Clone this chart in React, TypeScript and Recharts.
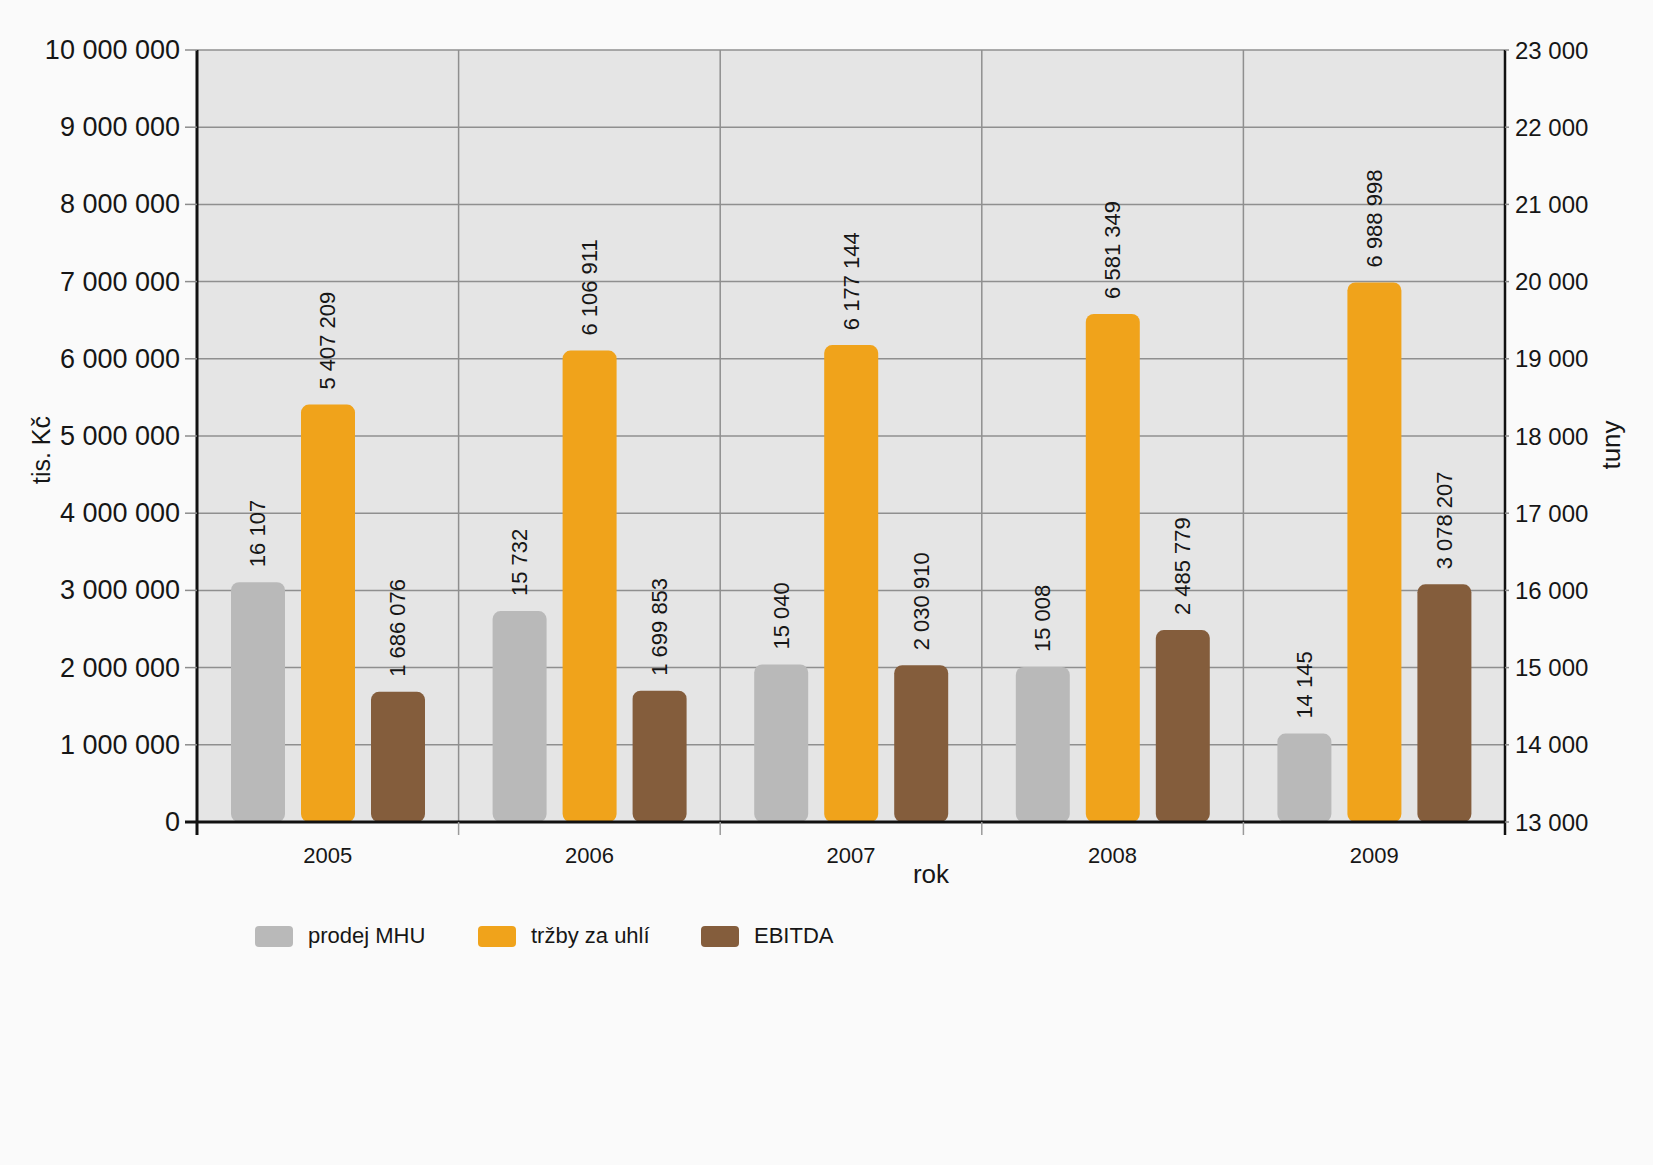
import React from 'react';
import { ComposedChart, Bar, XAxis, YAxis, CartesianGrid, LabelList } from 'recharts';

const years = ['2005', '2006', '2007', '2008', '2009'];
const prodejMHU = [16107, 15732, 15040, 15008, 14145];
const trzbyZaUhli = [5407209, 6106911, 6177144, 6581349, 6988998];
const ebitda = [1686076, 1699853, 2030910, 2485779, 3078207];
const leftTicks = [0, 1000000, 2000000, 3000000, 4000000, 5000000, 6000000, 7000000, 8000000, 9000000, 10000000];
const rightTicks = [13000, 14000, 15000, 16000, 17000, 18000, 19000, 20000, 21000, 22000, 23000];
const legendItems = [
  { name: 'prodej MHU', color: '#b9b9b9' },
  { name: 'tržby za uhlí', color: '#f0a31b' },
  { name: 'EBITDA', color: '#845d3c' },
];

const data = years.map((y, i) => ({ year: y, mhu: prodejMHU[i], trzby: trzbyZaUhli[i], ebitda: ebitda[i] }));

const FONT = "'Liberation Sans', Arial, Helvetica, sans-serif";
const TXT = '#161616';
const BG = '#fafafa';
const W = 1653;
const H = 1165;
const PLOT_LEFT = 197;
const PLOT_RIGHT = 1505;
const BAND = (PLOT_RIGHT - PLOT_LEFT) / years.length;

const fmt = (v: number) => String(Math.round(v)).replace(/\B(?=(\d{3})+(?!\d))/g, ' ');

const XTick = (props: any) => {
  const { x, y, payload, index } = props;
  const half = BAND / 2;
  const isFirst = index === 0;
  const isLast = index === years.length - 1;
  return (
    <g>
      <line x1={x - half} x2={x - half} y1={y} y2={y + 13} stroke={isFirst ? '#111' : '#9a9a9a'} strokeWidth={isFirst ? 3 : 1.5} />
      {isLast && <line x1={x + half} x2={x + half} y1={y} y2={y + 13} stroke="#111" strokeWidth={2.5} />}
      <text x={x} y={y + 33} textAnchor="middle" dominantBaseline="central" fontSize={22} fontFamily={FONT} fill={TXT}>
        {payload.value}
      </text>
    </g>
  );
};

const LeftTick = (props: any) => {
  const { x, y, payload } = props;
  const zero = payload.value === 0;
  return (
    <g>
      <line x1={x - 12} x2={x} y1={y} y2={y} stroke={zero ? '#111' : '#8c8c8c'} strokeWidth={zero ? 3 : 1.5} />
      <text x={x - 17} y={y} textAnchor="end" dominantBaseline="central" fontSize={27} fontFamily={FONT} fill={TXT}>
        {fmt(payload.value)}
      </text>
    </g>
  );
};

const RightTick = (props: any) => {
  const { x, y, payload } = props;
  return (
    <g>
      <line x1={x} x2={x + 4} y1={y} y2={y} stroke="#8c8c8c" strokeWidth={1.5} />
      <text x={x + 10} y={y} textAnchor="start" dominantBaseline="central" fontSize={24} fontFamily={FONT} fill={TXT}>
        {fmt(payload.value)}
      </text>
    </g>
  );
};

const ValueLabel = (props: any) => {
  const { x, y, width, value } = props;
  const cx = Number(x) + Number(width) / 2;
  const ty = Number(y) - 15;
  return (
    <text
      x={cx}
      y={ty}
      transform={`rotate(-90 ${cx} ${ty})`}
      textAnchor="start"
      dominantBaseline="central"
      fontSize={22}
      fontFamily={FONT}
      fill={TXT}
    >
      {fmt(Number(value))}
    </text>
  );
};

const vGen = (p: any) => {
  const off = p && p.offset ? p.offset : { left: PLOT_LEFT, width: PLOT_RIGHT - PLOT_LEFT };
  const res: number[] = [];
  for (let i = 1; i < years.length; i++) res.push(off.left + (off.width * i) / years.length);
  return res;
};

const rotLabel = (text: string, cx: number, cy: number, size: number, rot: boolean) => (
  <div
    style={{
      position: 'absolute',
      left: cx,
      top: cy,
      transform: `translate(-50%, -50%)${rot ? ' rotate(-90deg)' : ''}`,
      fontFamily: FONT,
      fontSize: size,
      color: TXT,
      whiteSpace: 'nowrap',
      lineHeight: 1,
    }}
  >
    {text}
  </div>
);

export default function App() {
  return (
    <div style={{ position: 'relative', width: W, height: H, background: BG, overflow: 'hidden' }}>
      <style>{`html, body { margin: 0; padding: 0; background: ${BG}; }`}</style>
      <ComposedChart
        width={W}
        height={H}
        data={data}
        margin={{ top: 50, left: 7, right: 8, bottom: 283 }}
        barSize={54}
        barGap={16}
      >
        <CartesianGrid
          yAxisId="left"
          fill="#e5e5e5"
          stroke="#8f8f8f"
          strokeWidth={1.5}
          verticalCoordinatesGenerator={vGen}
        />
        <XAxis
          dataKey="year"
          height={60}
          interval={0}
          tickSize={0}
          tickMargin={0}
          tickLine={false}
          tick={<XTick />}
          axisLine={{ stroke: '#111', strokeWidth: 3 }}
        />
        <YAxis
          yAxisId="left"
          orientation="left"
          width={190}
          domain={[0, 10000000]}
          ticks={leftTicks}
          interval={0}
          tickSize={0}
          tickMargin={0}
          tickLine={false}
          tick={<LeftTick />}
          axisLine={{ stroke: '#111', strokeWidth: 3 }}
          allowDataOverflow
        />
        <YAxis
          yAxisId="right"
          orientation="right"
          width={140}
          domain={[13000, 23000]}
          ticks={rightTicks}
          interval={0}
          tickSize={0}
          tickMargin={0}
          tickLine={false}
          tick={<RightTick />}
          axisLine={{ stroke: '#111', strokeWidth: 2.5 }}
          allowDataOverflow
        />
        <Bar yAxisId="right" dataKey="mhu" name="prodej MHU" fill={legendItems[0].color} radius={[8, 8, 8, 8]} isAnimationActive={false}>
          <LabelList dataKey="mhu" content={<ValueLabel />} />
        </Bar>
        <Bar yAxisId="left" dataKey="trzby" name="tržby za uhlí" fill={legendItems[1].color} radius={[8, 8, 8, 8]} isAnimationActive={false}>
          <LabelList dataKey="trzby" content={<ValueLabel />} />
        </Bar>
        <Bar yAxisId="left" dataKey="ebitda" name="EBITDA" fill={legendItems[2].color} radius={[8, 8, 8, 8]} isAnimationActive={false}>
          <LabelList dataKey="ebitda" content={<ValueLabel />} />
        </Bar>
      </ComposedChart>

      {rotLabel('tis. Kč', 41, 450, 25, true)}
      {rotLabel('tuny', 1611, 445, 26, true)}
      {rotLabel('rok', 931, 874, 26, false)}

      {legendItems.map((it, i) => {
        const sx = [255, 478, 701][i];
        return (
          <React.Fragment key={it.name}>
            <div style={{ position: 'absolute', left: sx, top: 926, width: 38, height: 21, borderRadius: 4, background: it.color }} />
            <div
              style={{
                position: 'absolute',
                left: sx + 53,
                top: 936,
                transform: 'translateY(-50%)',
                fontFamily: FONT,
                fontSize: 22,
                color: TXT,
                whiteSpace: 'nowrap',
                lineHeight: 1,
              }}
            >
              {it.name}
            </div>
          </React.Fragment>
        );
      })}
    </div>
  );
}
